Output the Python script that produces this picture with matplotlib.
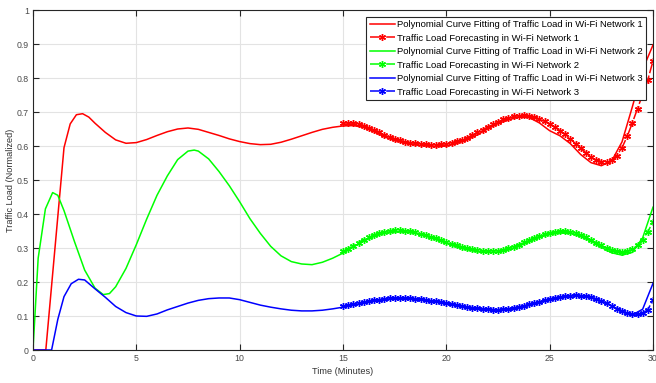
import matplotlib
matplotlib.use("Agg")
import matplotlib.pyplot as plt
import numpy as np

plt.rcParams['font.family'] = ['Liberation Sans', 'DejaVu Sans']

# ---------------- data ----------------
t_fit1 = [0, 0.62, 1.5, 1.8, 2.1, 2.4, 2.7, 3.0, 3.5, 4.0, 4.5, 5.0, 5.5, 6.0, 6.5, 7.0,
          7.5, 8.0, 8.5, 9.0, 9.5, 10.0, 10.5, 11.0, 11.5, 12.0, 12.5, 13.0, 13.5, 14.0,
          14.5, 15.0, 15.5, 16.0, 16.5, 17.0, 17.5, 18.0, 18.5, 19.0, 19.5, 20.0, 20.5,
          21.0, 21.5, 22.0, 22.5, 23.0, 23.5, 24.0, 24.5, 25.0, 25.5, 26.0, 26.5, 27.0,
          27.5, 28.0, 28.5, 29.0, 29.5, 30.0]
fit1 = [0, 0, 0.595, 0.665, 0.692, 0.695, 0.685, 0.667, 0.640, 0.618, 0.608, 0.610, 0.619,
        0.631, 0.642, 0.650, 0.653, 0.649, 0.640, 0.631, 0.621, 0.613, 0.607, 0.604, 0.605,
        0.611, 0.620, 0.630, 0.640, 0.649, 0.655, 0.659, 0.660, 0.655, 0.642, 0.627, 0.616,
        0.608, 0.603, 0.600, 0.598, 0.600, 0.607, 0.618, 0.633, 0.650, 0.666, 0.677, 0.685,
        0.684, 0.668, 0.645, 0.630, 0.607, 0.575, 0.551, 0.542, 0.556, 0.612, 0.715, 0.825,
        0.897]

t_fit2 = [0, 0.25, 0.6, 0.95, 1.2, 1.5, 2.0, 2.5, 3.0, 3.4, 3.7, 4.0, 4.5, 5.0, 5.5, 6.0,
          6.5, 7.0, 7.5, 7.8, 8.0, 8.5, 9.0, 9.5, 10.0, 10.5, 11.0, 11.5, 12.0, 12.5, 13.0,
          13.5, 14.0, 14.5, 15.0, 15.5, 16.0, 16.5, 17.0, 17.5, 18.0, 18.5, 19.0, 19.5,
          20.0, 20.5, 21.0, 21.5, 22.0, 22.5, 23.0, 23.5, 24.0, 24.5, 25.0, 25.5, 26.0,
          26.5, 27.0, 27.5, 28.0, 28.5, 29.0, 29.5, 30.0]
fit2 = [0, 0.27, 0.415, 0.463, 0.455, 0.410, 0.320, 0.235, 0.182, 0.163, 0.166, 0.186,
        0.240, 0.310, 0.385, 0.455, 0.512, 0.560, 0.585, 0.588, 0.585, 0.562, 0.525, 0.483,
        0.436, 0.386, 0.343, 0.305, 0.277, 0.260, 0.253, 0.251, 0.258, 0.270, 0.285, 0.303,
        0.320, 0.334, 0.343, 0.347, 0.347, 0.343, 0.335, 0.325, 0.314, 0.303, 0.295, 0.289,
        0.287, 0.288, 0.294, 0.305, 0.318, 0.331, 0.340, 0.344, 0.343, 0.334, 0.320, 0.302,
        0.286, 0.279, 0.287, 0.330, 0.420]

t_fit3 = [0, 0.9, 1.2, 1.5, 1.85, 2.2, 2.5, 3.0, 3.5, 4.0, 4.5, 5.0, 5.5, 6.0, 6.5, 7.0,
          7.5, 8.0, 8.5, 9.0, 9.5, 10.0, 10.5, 11.0, 11.5, 12.0, 12.5, 13.0, 13.5, 14.0,
          14.5, 15.0, 15.5, 16.0, 16.5, 17.0, 17.5, 18.0, 18.5, 19.0, 19.5, 20.0, 20.5,
          21.0, 21.5, 22.0, 22.5, 23.0, 23.5, 24.0, 24.5, 25.0, 25.5, 26.0, 26.5, 27.0,
          27.5, 28.0, 28.5, 29.0, 29.5, 30.0]
fit3 = [0, 0, 0.090, 0.157, 0.195, 0.208, 0.206, 0.180, 0.155, 0.128, 0.110, 0.100, 0.099,
        0.106, 0.118, 0.128, 0.138, 0.146, 0.151, 0.153, 0.153, 0.148, 0.140, 0.132, 0.126,
        0.121, 0.117, 0.115, 0.115, 0.117, 0.121, 0.126, 0.132, 0.138, 0.144, 0.148, 0.151,
        0.151, 0.149, 0.146, 0.142, 0.137, 0.131, 0.126, 0.121, 0.118, 0.117, 0.119, 0.124,
        0.131, 0.139, 0.147, 0.154, 0.159, 0.160, 0.155, 0.143, 0.130, 0.112, 0.103, 0.120,
        0.196]

t_fc = [15.0, 15.25, 15.5, 15.75, 16.0, 16.25, 16.5, 16.75, 17.0, 17.25, 17.5, 17.75,
        18.0, 18.25, 18.5, 18.75, 19.0, 19.25, 19.5, 19.75, 20.0, 20.25, 20.5, 20.75,
        21.0, 21.25, 21.5, 21.75, 22.0, 22.25, 22.5, 22.75, 23.0, 23.25, 23.5, 23.75,
        24.0, 24.25, 24.5, 24.75, 25.0, 25.25, 25.5, 25.75, 26.0, 26.25, 26.5, 26.75,
        27.0, 27.25, 27.5, 27.75, 28.0, 28.25, 28.5, 28.75, 29.0, 29.25, 29.5, 29.75, 30.0]
fc1 = [0.668, 0.668, 0.667, 0.664, 0.660, 0.654, 0.647, 0.640, 0.633, 0.627, 0.621, 0.617,
       0.613, 0.610, 0.608, 0.606, 0.605, 0.604, 0.604, 0.605, 0.607, 0.610, 0.614, 0.619,
       0.625, 0.632, 0.640, 0.648, 0.656, 0.664, 0.671, 0.678, 0.683, 0.687, 0.689, 0.690,
       0.689, 0.686, 0.680, 0.673, 0.664, 0.655, 0.645, 0.634, 0.621, 0.607, 0.593, 0.580,
       0.568, 0.559, 0.554, 0.553, 0.558, 0.572, 0.595, 0.628, 0.668, 0.710, 0.752, 0.795,
       0.850]
fc2 = [0.290, 0.298, 0.307, 0.316, 0.325, 0.332, 0.339, 0.344, 0.348, 0.351, 0.352, 0.352,
       0.351, 0.349, 0.346, 0.342, 0.338, 0.333, 0.328, 0.323, 0.318, 0.313, 0.308, 0.303,
       0.299, 0.296, 0.293, 0.292, 0.291, 0.291, 0.292, 0.295, 0.299, 0.304, 0.310, 0.317,
       0.323, 0.330, 0.336, 0.341, 0.345, 0.348, 0.349, 0.349, 0.347, 0.343, 0.338, 0.331,
       0.324, 0.316, 0.308, 0.300, 0.294, 0.290, 0.289, 0.291, 0.297, 0.308, 0.325, 0.348,
       0.377]
fc3 = [0.128, 0.131, 0.134, 0.137, 0.140, 0.143, 0.146, 0.148, 0.150, 0.152, 0.153, 0.153,
       0.153, 0.152, 0.151, 0.149, 0.147, 0.145, 0.143, 0.140, 0.138, 0.135, 0.132, 0.130,
       0.127, 0.125, 0.123, 0.121, 0.120, 0.119, 0.119, 0.120, 0.121, 0.124, 0.127, 0.130,
       0.134, 0.138, 0.142, 0.146, 0.150, 0.153, 0.156, 0.159, 0.160, 0.161, 0.160, 0.158,
       0.155, 0.150, 0.144, 0.137, 0.130, 0.122, 0.115, 0.109, 0.106, 0.105, 0.108, 0.119,
       0.147]

labels = [
    "Polynomial Curve Fitting of Traffic Load in Wi-Fi Network 1",
    "Traffic Load Forecasting in Wi-Fi Network 1",
    "Polynomial Curve Fitting of Traffic Load in Wi-Fi Network 2",
    "Traffic Load Forecasting in Wi-Fi Network 2",
    "Polynomial Curve Fitting of Traffic Load in Wi-Fi Network 3",
    "Traffic Load Forecasting in Wi-Fi Network 3",
]
xticks = [0, 5, 10, 15, 20, 25, 30]
yticks = [0, 0.1, 0.2, 0.3, 0.4, 0.5, 0.6, 0.7, 0.8, 0.9, 1]
ytick_labels = ["0", "0.1", "0.2", "0.3", "0.4", "0.5", "0.6", "0.7", "0.8", "0.9", "1"]

# ---------------- plot ----------------
fig = plt.figure(figsize=(6.56, 3.83), dpi=100)
ax = fig.add_axes([33/656, 33/383, 620/656, 340/383])

asterisk = (6, 2, 0)
lw = 1.1
ms = 5
mew = 1.0

series = [
    (t_fit1, fit1, fc1, 'red'),
    (t_fit2, fit2, fc2, '#00ff00'),
    (t_fit3, fit3, fc3, 'blue'),
]
i = 0
for tf, yf, yc, col in series:
    ax.plot(tf, yf, '-', color=col, lw=lw, label=labels[i])
    ax.plot(t_fc, yc, '-.', color=col, lw=lw, marker=asterisk, ms=ms, mew=mew,
            label=labels[i + 1])
    i += 2

ax.set_xlim(0, 30)
ax.set_ylim(0, 1)
ax.set_xticks(xticks)
ax.set_yticks(yticks)
ax.set_yticklabels(ytick_labels)
ax.grid(True, color='#e3e3e3', lw=0.8)
ax.set_axisbelow(True)
ax.tick_params(direction='in', length=4.5, width=0.8, top=True, right=True,
               labelsize=6.3, colors='#262626', pad=3)
ax.tick_params(labelcolor='#4a4a4a')
for s in ax.spines.values():
    s.set_color('#262626')
    s.set_linewidth(0.8)

ax.set_xlabel("Time (Minutes)", fontsize=6.6, color='#333333', labelpad=3)
ax.set_ylabel("Traffic Load (Normalized)", fontsize=6.6, color='#333333', labelpad=1)

leg = ax.legend(loc='upper right', fontsize=6.8, handlelength=2.65, handletextpad=0.25,
                labelspacing=0.48, borderpad=0.37, borderaxespad=0.7,
                fancybox=False, framealpha=1, edgecolor='#262626')
leg.get_frame().set_linewidth(0.8)

fig.savefig("out.png", dpi=100)
